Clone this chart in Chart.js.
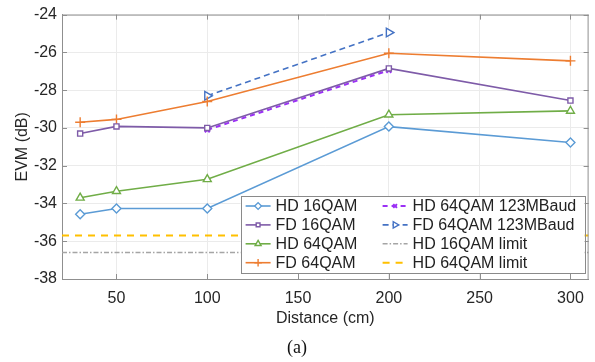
<!DOCTYPE html>
<html>
<head>
<meta charset="utf-8">
<script src="https://cdn.jsdelivr.net/npm/chart.js@4"></script>
<style>
    html, body { margin: 0; padding: 0; background: #fff; }
    #wrap { width: 595px; height: 362px; position: relative; }
</style>
</head>
<body>
<div id="wrap"><canvas id="evm"></canvas></div>
<script>
// distances (cm) and measured EVM (dB)
const distances = [30, 50, 100, 200, 300];
const hd16qam = [-34.57, -34.27, -34.27, -29.93, -30.77];
const fd16qam = [-30.3, -29.92, -30.0, -26.85, -28.55];
const hd64qam = [-33.7, -33.35, -32.72, -29.3, -29.1];
const fd64qam = [-29.7, -29.55, -28.6, -26.05, -26.45];
// 123 MBaud runs only at 100 and 200 cm
const fastDistances = [100, 200];
const hd64qamFast = [-30.1, -26.95];
const fd64qamFast = [-28.3, -24.95];
// threshold lines
const hd16qamLimit = -36.6;
const hd64qamLimit = -35.7;
const xRange = [20, 310];
const xTicks = [50, 100, 150, 200, 250, 300];
const yRange = [-38, -24];

const FONT = "'Liberation Sans', Arial, sans-serif";
const AXIS_GRAY = "#8f8f8f";

const pts = (xs, ys) => xs.map((x, i) => ({ x: x, y: ys[i] }));
const flat = (v) => xRange.map((x) => ({ x: x, y: v }));

function series(label, data, color, style, extra) {
    return Object.assign({
        label: label,
        data: data,
        borderColor: color,
        backgroundColor: color,
        borderWidth: 1.6,
        pointStyle: style,
        pointRadius: 4,
        pointBorderWidth: 1.4,
        pointBorderColor: color,
        pointBackgroundColor: "#fff",
        tension: 0,
    }, extra || {});
}

const datasets = [
    series("HD 16QAM", pts(distances, hd16qam), "#5b9bd5", "rectRot", { pointRadius: 4.5 }),
    series("FD 16QAM", pts(distances, fd16qam), "#7e5ba8", "rect", { pointRadius: 3.6 }),
    series("HD 64QAM", pts(distances, hd64qam), "#70ad47", "triangle", { pointRadius: 4.6 }),
    series("FD 64QAM", pts(distances, fd64qam), "#ed7d31", "cross", { pointRadius: 5 }),
    series("HD 64QAM 123MBaud", pts(fastDistances, hd64qamFast), "#9b30f5", "crossRot",
        { borderDash: [5, 4], borderWidth: 2, pointRadius: 3.5, pointBorderWidth: 2 }),
    series("FD 64QAM 123MBaud", pts(fastDistances, fd64qamFast), "#4472c4", "triangle",
        { borderDash: [6, 4], pointRotation: 90, pointRadius: 5 }),
    series("HD 16QAM limit", flat(hd16qamLimit), "#a5a5a5", false,
        { borderDash: [5, 2, 1.5, 2], borderWidth: 1.4, pointRadius: 0 }),
    series("HD 64QAM limit", flat(hd64qamLimit), "#ffc000", false,
        { borderDash: [7, 6], borderWidth: 2, pointRadius: 0 }),
];

// box around the axes with inward ticks on all four sides
const boxPlugin = {
    id: "box",
    afterDatasetsDraw(chart) {
        const { ctx, chartArea: a, scales } = chart;
        ctx.save();
        ctx.strokeStyle = AXIS_GRAY;
        ctx.lineWidth = 1;
        ctx.beginPath();
        ctx.moveTo(a.left, a.top + 0.5);
        ctx.lineTo(a.right, a.top + 0.5);
        ctx.moveTo(a.right - 0.5, a.top);
        ctx.lineTo(a.right - 0.5, a.bottom);
        scales.x.ticks.forEach((t) => {
            const x = Math.round(scales.x.getPixelForValue(t.value)) + 0.5;
            ctx.moveTo(x, a.bottom);
            ctx.lineTo(x, a.bottom - 5);
            ctx.moveTo(x, a.top);
            ctx.lineTo(x, a.top + 5);
        });
        scales.y.ticks.forEach((t) => {
            const y = Math.round(scales.y.getPixelForValue(t.value)) + 0.5;
            ctx.moveTo(a.left, y);
            ctx.lineTo(a.left + 5, y);
            ctx.moveTo(a.right, y);
            ctx.lineTo(a.right - 5, y);
        });
        ctx.stroke();
        ctx.restore();
    },
};

// two-column legend in the lower right corner of the plot
const legendPlugin = {
    id: "twoColLegend",
    afterDatasetsDraw(chart) {
        const { ctx, chartArea: a } = chart;
        const w = 344, h = 77;
        const x0 = a.right - 4 - w, y0 = a.bottom - 6 - h;
        ctx.save();
        ctx.fillStyle = "#fff";
        ctx.fillRect(x0, y0, w, h);
        ctx.strokeStyle = "#8a8a8a";
        ctx.lineWidth = 1;
        ctx.strokeRect(Math.round(x0) + 0.5, Math.round(y0) + 0.5, w, h);
        ctx.font = "16px " + FONT;
        ctx.textBaseline = "middle";
        chart.data.datasets.forEach((ds, i) => {
            const col = Math.floor(i / 4), row = i % 4;
            const lx = x0 + 5 + col * 137;
            const ly = y0 + 10 + row * 18.9;
            ctx.strokeStyle = ds.borderColor;
            ctx.lineWidth = ds.borderWidth;
            ctx.setLineDash(ds.borderDash || []);
            ctx.beginPath();
            ctx.moveTo(lx, ly);
            ctx.lineTo(lx + 25, ly);
            ctx.stroke();
            ctx.setLineDash([]);
            if (ds.pointStyle) {
                ctx.fillStyle = "#fff";
                ctx.lineWidth = ds.pointBorderWidth;
                Chart.helpers.drawPoint(ctx, {
                    pointStyle: ds.pointStyle,
                    rotation: ds.pointRotation || 0,
                    radius: ds.pointRadius * 0.75,
                    borderWidth: ds.pointBorderWidth,
                }, lx + 12.5, ly);
            }
            ctx.fillStyle = "#222";
            ctx.fillText(ds.label, lx + 30, ly + 1);
        });
        ctx.restore();
    },
};

// panel caption under the axis title
const captionPlugin = {
    id: "caption",
    afterDraw(chart) {
        const { ctx } = chart;
        ctx.save();
        ctx.font = "18px 'Liberation Serif', 'Times New Roman', serif";
        ctx.fillStyle = "#111";
        ctx.textAlign = "center";
        ctx.textBaseline = "middle";
        ctx.fillText("(a)", 297, 348);
        ctx.restore();
    },
};

new Chart(document.getElementById("evm"), {
    type: "line",
    data: { datasets: datasets },
    options: {
        responsive: true,
        maintainAspectRatio: false,
        animation: false,
        layout: { padding: { top: 10, right: 4, bottom: 33, left: 0 } },
        plugins: {
            legend: { display: false },
            tooltip: { enabled: false },
        },
        scales: {
            x: {
                type: "linear",
                min: xRange[0],
                max: xRange[1],
                afterBuildTicks: (s) => { s.ticks = xTicks.map((v) => ({ value: v })); },
                afterFit: (s) => { s.height = 50; },
                grid: { color: "#ebebeb", drawTicks: false },
                border: { color: AXIS_GRAY },
                ticks: { padding: 10, color: "#262626", font: { family: FONT, size: 16 } },
                title: {
                    display: true,
                    text: "Distance (cm)",
                    color: "#262626",
                    padding: 1,
                    font: { family: FONT, size: 16 },
                },
            },
            y: {
                min: yRange[0],
                max: yRange[1],
                afterFit: (s) => { s.width = 62; },
                grid: { color: "#ebebeb", drawTicks: false },
                border: { color: AXIS_GRAY },
                ticks: { stepSize: 2, padding: 5, color: "#262626", font: { family: FONT, size: 16 } },
                title: {
                    display: true,
                    text: "EVM (dB)",
                    color: "#262626",
                    padding: { top: 13, bottom: 0 },
                    font: { family: FONT, size: 16 },
                },
            },
        },
    },
    plugins: [boxPlugin, legendPlugin, captionPlugin],
});
</script>
</body>
</html>
